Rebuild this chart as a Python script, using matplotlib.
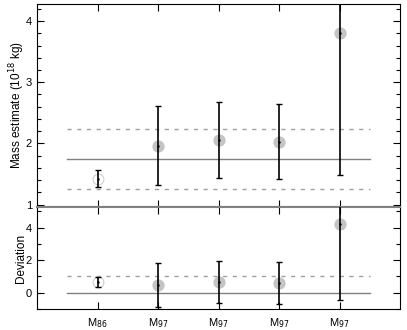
import matplotlib
matplotlib.use("Agg")
import matplotlib.pyplot as plt
from matplotlib.ticker import MultipleLocator

# Data
labels = ["M$_{86}$", "M$_{97}$", "M$_{97}$", "M$_{97}$", "M$_{97}$"]
xpos = [1, 2, 3, 4, 5]
mass = [1.42, 1.96, 2.05, 2.03, 3.80]
mass_lo = [1.28, 1.32, 1.43, 1.41, 1.49]
mass_hi = [1.57, 2.61, 2.67, 2.65, 4.60]
mass_mean = 1.74
mass_band = [1.25, 2.23]

dev = [0.65, 0.45, 0.65, 0.62, 4.22]
dev_lo = [0.35, -0.88, -0.63, -0.67, -0.47]
dev_hi = [0.95, 1.80, 1.92, 1.87, 6.00]
dev_zero = 0.0
dev_band = 1.0

plt.rcParams['font.family'] = ['Liberation Sans', 'DejaVu Sans']

fig = plt.figure(figsize=(4.07, 3.30), dpi=100)
ax1 = fig.add_axes([37/407, (330-207)/330, 363/407, 203/330])
ax2 = fig.add_axes([37/407, (330-309)/330, 363/407, 102/330])

grey_marker = "#c4c4c4"
line_grey = "#808080"
dash_grey = "#a0a0a0"

def draw(ax, vals, lo, hi, hlines_solid, hlines_dash):
    for y in hlines_solid:
        ax.plot([0.5, 5.5], [y, y], color=line_grey, lw=1.0, zorder=1)
    for y in hlines_dash:
        ax.plot([0.5, 5.5], [y, y], color=dash_grey, lw=1.0, ls=(0, (3, 4)), zorder=1)
    for i, (x, v, l, h) in enumerate(zip(xpos, vals, lo, hi)):
        if i == 0:
            ax.plot(x, v, 'o', ms=7.8, mfc='white', mec="#cfcfcf", mew=0.8, zorder=2)
        else:
            ax.plot(x, v, 'o', ms=7.8, mfc=grey_marker, mec=grey_marker, zorder=2)
        ax.errorbar([x], [v], yerr=[[v - l], [h - v]], fmt='none', ecolor='black',
                    elinewidth=1.2, capsize=2.2, capthick=1.0, zorder=3)
        ax.plot(x, v, '.', ms=1.5, color='black', zorder=4)
    ax.set_xlim(0, 6)
    ax.set_xticks(xpos)
    ax.tick_params(axis='both', direction='in', labelsize=8, length=5, width=0.8,
                   top=True, right=True)
    ax.tick_params(axis='y', which='minor', direction='in', length=3, width=0.8,
                   right=True)

draw(ax1, mass, mass_lo, mass_hi, [mass_mean], mass_band)
ax1.set_ylim(0.96, 4.28)
ax1.yaxis.set_major_locator(MultipleLocator(1))
ax1.yaxis.set_minor_locator(MultipleLocator(0.2))
ax1.set_xticklabels([])
ax1.set_ylabel("Mass estimate (10$^{18}$ kg)", fontsize=8.5)
ax1.spines['bottom'].set_color(line_grey)
ax1.spines['bottom'].set_linewidth(1.5)

draw(ax2, dev, dev_lo, dev_hi, [dev_zero], [dev_band])
ax2.set_ylim(-1.0, 5.27)
ax2.yaxis.set_major_locator(MultipleLocator(2))
ax2.yaxis.set_minor_locator(MultipleLocator(1))
ax2.set_xticklabels(labels, fontsize=8)
ax2.tick_params(axis='x', pad=5)
ax2.set_ylabel("Deviation", fontsize=8.5)
ax2.spines['top'].set_color(line_grey)
ax2.spines['top'].set_linewidth(1.5)

for ax in (ax1, ax2):
    ax.yaxis.set_label_coords(-0.028, 0.5)

fig.savefig("out.png", dpi=100)
